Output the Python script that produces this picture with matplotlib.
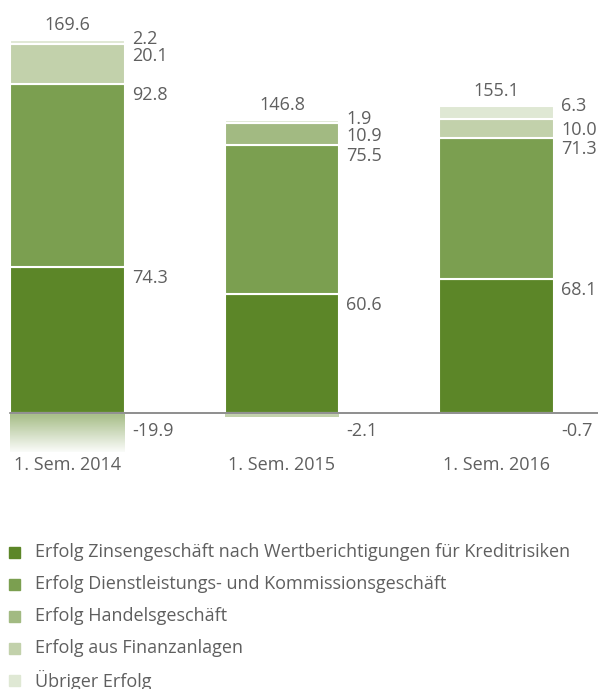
import numpy as np
import matplotlib.pyplot as plt
from matplotlib.colors import LinearSegmentedColormap
from matplotlib.patches import Rectangle

plt.rcParams['font.family'] = ['Open Sans', 'DejaVu Sans']

# data (Mio.)
years = ['1. Sem. 2014', '1. Sem. 2015', '1. Sem. 2016']
zins = [74.3, 60.6, 68.1]
dienst = [92.8, 75.5, 71.3]
handel = [-19.9, 10.9, -0.7]
finanz = [20.1, -2.1, 10.0]
uebrig = [2.2, 1.9, 6.3]
totals = [169.6, 146.8, 155.1]

names = ['Erfolg Zinsengeschäft nach Wertberichtigungen für Kreditrisiken',
         'Erfolg Dienstleistungs- und Kommissionsgeschäft',
         'Erfolg Handelsgeschäft',
         'Erfolg aus Finanzanlagen',
         'Übriger Erfolg']
colors = ['#5c8628', '#7b9f50', '#a2ba82', '#c2d1ab', '#dfe8d4']
series = [zins, dienst, handel, finanz, uebrig]

txtcol = '#5f5f5f'
fs = 13

W, H = 598, 689
fig = plt.figure(figsize=(W / 100, H / 100), dpi=100)
# axes spans pixel rows 20..470
ax = fig.add_axes([0, (H - 470) / H, 1, 450 / H])
pxu = 1.97           # pixels per unit
zero_px = 413
ax.set_ylim(-(470 - zero_px) / pxu, (zero_px - 20) / pxu)
bw = 0.536
ax.set_xlim(-67.5 / 214.5, (W - 67.5) / 214.5)
ax.axis('off')

x = np.arange(len(years))
grad = LinearSegmentedColormap.from_list('g', ['#a2ba82', '#ffffff'])

for i in range(len(years)):
    pos = 0.0
    neg = 0.0
    labels = []   # (y_top, text)
    for s, c in zip(series, colors):
        v = s[i]
        if v >= 0:
            ax.bar(x[i], v, bw, bottom=pos, color=c, edgecolor='white', linewidth=1.5, zorder=2)
            pos += v
            labels.append([pos, '%.1f' % v])
        else:
            x0 = x[i] - bw / 2
            if v < -10:
                img = np.linspace(0, 1, 100).reshape(-1, 1)
                ax.imshow(img, cmap=grad, aspect='auto', extent=[x0, x0 + bw, neg + v, neg],
                          origin='upper', zorder=1, vmin=0, vmax=1.05)
            else:
                ax.bar(x[i], v, bw, bottom=neg, color=c, linewidth=0, zorder=1)
            neg += v
            ax.text(x[i] + bw / 2 + 7 / 214.5, -18 / pxu, '%.1f' % v, fontsize=fs,
                    color=txtcol, va='center', ha='left')
    # place positive labels top-down, avoid overlap
    labels = labels[::-1]
    prev = None
    for k, (yt, t) in enumerate(labels):
        if k == 0:
            y = yt + 0.5 / pxu
        else:
            y = min(yt - 11 / pxu, prev - 17 / pxu)
        prev = y
        ax.text(x[i] + bw / 2 + 7 / 214.5, y, t, fontsize=fs, color=txtcol,
                va='center', ha='left')
    ax.text(x[i], pos + 15 / pxu, '%.1f' % totals[i], fontsize=fs, color=txtcol,
            va='center', ha='center')
    ax.text(x[i], -52 / pxu, years[i], fontsize=fs, color=txtcol, va='center', ha='center')

ax.axhline(0, xmin=10 / W, xmax=1, color='#707070', linewidth=1.1, zorder=3)

# legend
for k, (n, c) in enumerate(zip(names, colors)):
    yc = 552 + 32 * k
    fig.patches.append(Rectangle((9 / W, (H - yc - 5.5) / H), 11 / W, 11 / H,
                                 transform=fig.transFigure, color=c, figure=fig))
    fig.text(35 / W, (H - yc) / H, n, fontsize=fs, color=txtcol, va='center', ha='left')

fig.savefig('out.png', dpi=100)
